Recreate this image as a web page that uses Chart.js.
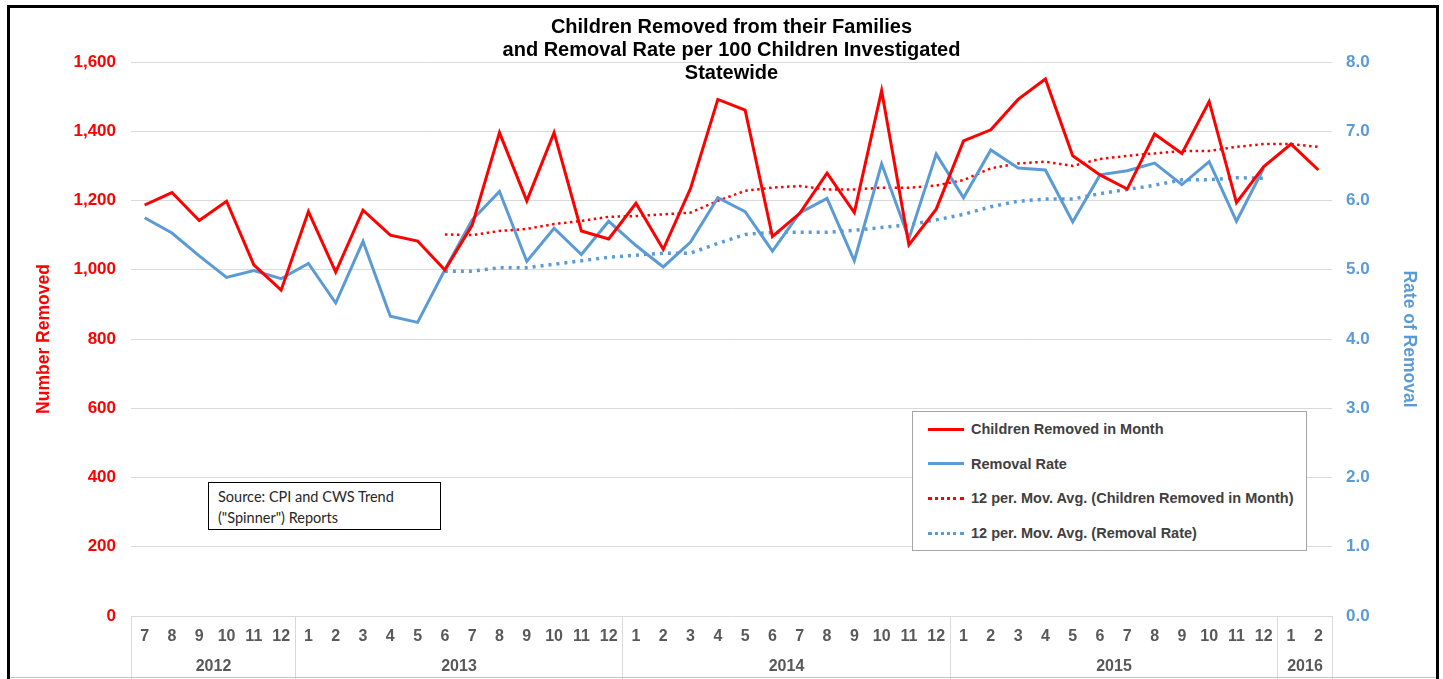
<!DOCTYPE html>
<html>
<head>
<meta charset="utf-8">
<script src="https://cdn.jsdelivr.net/npm/chart.js@4.4.1/dist/chart.umd.min.js"></script>
<style>
    body { margin: 0; background: #fff; overflow: hidden; }
    #wrap { position: relative; width: 1443px; height: 679px; }
    #frame { position: absolute; left: 7px; top: 5px; width: 1426px; height: 680px; border: 3px solid #000; pointer-events: none; }
    #bottomLine { position: absolute; left: 10px; top: 677px; width: 1426px; height: 1px; background: #c4c4c4; }
    #legendBox { position: absolute; left: 912px; top: 411px; width: 393px; height: 138px; border: 1.5px solid #a6a6a6; background: #fff; }
    .legendRow { position: absolute; left: 15px; height: 20px; display: flex; align-items: center;
        font: bold 14.5px "Liberation Sans", Arial, sans-serif; color: #404040; white-space: nowrap; }
    .legendRow span.sample { display: inline-block; width: 36px; margin-right: 7px; }
    #sourceBox { position: absolute; left: 208px; top: 482px; width: 222px; height: 43px; border: 1.5px solid #000;
        padding: 3px 0 0 9px; font: 14.5px Lato, "Open Sans", sans-serif; color: #262626; line-height: 21px; background: #fff; }
</style>
</head>
<body>
<div id="wrap">
    <canvas id="removalChart" width="1443" height="679"></canvas>
    <div id="legendBox"></div>
    <div id="sourceBox">Source: CPI and CWS Trend<br>("Spinner") Reports</div>
    <div id="bottomLine"></div>
    <div id="frame"></div>
</div>
<script>
// months Jul 2012 - Feb 2016
const monthLabels = ['7', '8', '9', '10', '11', '12',
    '1', '2', '3', '4', '5', '6', '7', '8', '9', '10', '11', '12',
    '1', '2', '3', '4', '5', '6', '7', '8', '9', '10', '11', '12',
    '1', '2', '3', '4', '5', '6', '7', '8', '9', '10', '11', '12',
    '1', '2'];
const yearLabels = ['2012', '2013', '2014', '2015', '2016'];
const yearSpans = [6, 12, 12, 12, 2];

const removed = [1187, 1223, 1142, 1198, 1014, 941, 1168, 993, 1172, 1100, 1083, 999,
    1129, 1396, 1199, 1396, 1112, 1089, 1192, 1059, 1235, 1492, 1461, 1096,
    1163, 1279, 1165, 1517, 1072, 1175, 1372, 1404, 1492, 1551, 1329, 1274,
    1233, 1392, 1336, 1486, 1194, 1298, 1363, 1288];

const removalRate = [5.75, 5.53, 5.20, 4.89, 4.99, 4.87, 5.09, 4.52, 5.41, 4.33, 4.24, 5.00,
    5.72, 6.13, 5.12, 5.60, 5.22, 5.70, 5.35, 5.04, 5.40, 6.04, 5.84, 5.27,
    5.82, 6.03, 5.13, 6.53, 5.45, 6.67, 6.04, 6.73, 6.47, 6.44, 5.69, 6.37,
    6.43, 6.54, 6.23, 6.56, 5.70, 6.47, null, null];

const removedAvg = [null, null, null, null, null, null, null, null, null, null, null, 1102,
    1100, 1112, 1118, 1132, 1141, 1153, 1155, 1160, 1165, 1199, 1228, 1237,
    1242, 1232, 1232, 1237, 1237, 1243, 1259, 1293, 1307, 1312, 1300, 1320,
    1329, 1336, 1343, 1343, 1355, 1363, 1363, 1355];

const rateAvg = [null, null, null, null, null, null, null, null, null, null, null, 4.98,
    4.98, 5.03, 5.03, 5.08, 5.13, 5.18, 5.21, 5.24, 5.24, 5.38, 5.51, 5.54,
    5.54, 5.54, 5.57, 5.61, 5.65, 5.72, 5.80, 5.91, 5.99, 6.02, 6.02, 6.10,
    6.16, 6.22, 6.30, 6.30, 6.33, 6.32, null, null];

const RED = '#ff0000';
const BLUE = '#5b9bd5';
const GRID = '#d9d9d9';
const FONT = '"Liberation Sans", Arial, sans-serif';

// year row under the month labels, with the separators
const yearRows = {
    id: 'yearRows',
    afterDraw(chart) {
        const x = chart.scales.x;
        const ctx = chart.ctx;
        const step = x.getPixelForValue(1) - x.getPixelForValue(0);
        const top = chart.chartArea.bottom;
        ctx.save();
        ctx.strokeStyle = GRID;
        ctx.lineWidth = 1;
        ctx.font = 'bold 16px ' + FONT;
        ctx.fillStyle = '#595959';
        ctx.textAlign = 'center';
        ctx.textBaseline = 'middle';
        let start = 0;
        yearLabels.forEach((yr, k) => {
            const x0 = Math.round(x.getPixelForValue(start) - step / 2) + 0.5;
            const x1 = Math.round(x.getPixelForValue(start + yearSpans[k] - 1) + step / 2) + 0.5;
            ctx.beginPath();
            ctx.moveTo(x0, top); ctx.lineTo(x0, chart.height);
            ctx.moveTo(x1, top); ctx.lineTo(x1, chart.height);
            ctx.stroke();
            ctx.fillText(yr, (x0 + x1) / 2, top + 51);
            start += yearSpans[k];
        });
        ctx.restore();
    }
};

const chart = new Chart(document.getElementById('removalChart'), {
    type: 'line',
    data: {
        labels: monthLabels,
        datasets: [{
            label: 'Children Removed in Month',
            data: removed,
            yAxisID: 'y',
            borderColor: RED,
            backgroundColor: RED,
            borderWidth: 3,
            pointRadius: 0,
            order: 1
        }, {
            label: 'Removal Rate',
            data: removalRate,
            yAxisID: 'y1',
            borderColor: BLUE,
            backgroundColor: BLUE,
            borderWidth: 3,
            pointRadius: 0,
            order: 2
        }, {
            label: '12 per. Mov. Avg. (Children Removed in Month)',
            data: removedAvg,
            yAxisID: 'y',
            borderColor: RED,
            backgroundColor: RED,
            borderWidth: 2.5,
            borderDash: [2.5, 3.5],
            pointRadius: 0,
            order: 3
        }, {
            label: '12 per. Mov. Avg. (Removal Rate)',
            data: rateAvg,
            yAxisID: 'y1',
            borderColor: BLUE,
            backgroundColor: BLUE,
            borderWidth: 3.5,
            borderDash: [3, 5],
            pointRadius: 0,
            order: 4
        }]
    },
    options: {
        responsive: false,
        animation: false,
        events: [],
        layout: { padding: { top: 5, left: 0, right: 0, bottom: 0 } },
        plugins: {
            legend: { display: false },
            tooltip: { enabled: false },
            title: {
                display: true,
                fullSize: false,
                text: ['Children Removed from their Families',
                       'and Removal Rate per 100 Children Investigated',
                       'Statewide'],
                color: '#000',
                font: { family: FONT, size: 20, weight: 'bold', lineHeight: 1.15 },
                padding: { top: 10.5, bottom: -22.5 }
            }
        },
        scales: {
            x: {
                offset: true,
                grid: { display: false, drawTicks: false },
                border: { display: false },
                ticks: {
                    color: '#595959',
                    font: { family: FONT, size: 16, weight: 'bold' },
                    padding: 11,
                    maxRotation: 0,
                    autoSkip: false
                },
                afterFit: (s) => { s.height = 63; }
            },
            y: {
                position: 'left',
                min: 0,
                max: 1600,
                ticks: {
                    stepSize: 200,
                    color: RED,
                    padding: 15,
                    font: { family: FONT, size: 17, weight: 'bold' },
                    callback: (v) => v.toLocaleString('en-US')
                },
                grid: { color: GRID, drawTicks: false },
                border: { display: false },
                title: {
                    display: true,
                    text: 'Number Removed',
                    color: RED,
                    font: { family: FONT, size: 17.5, weight: 'bold' },
                    padding: { top: 34 }
                },
                afterFit: (s) => { s.width = 131; }
            },
            y1: {
                position: 'right',
                min: 0,
                max: 8,
                ticks: {
                    stepSize: 1,
                    color: BLUE,
                    padding: 14,
                    font: { family: FONT, size: 17, weight: 'bold' },
                    callback: (v) => v.toFixed(1)
                },
                grid: { drawOnChartArea: false, drawTicks: false },
                border: { display: false },
                title: {
                    display: true,
                    text: 'Rate of Removal',
                    color: BLUE,
                    font: { family: FONT, size: 17.5, weight: 'bold' },
                    padding: { top: 24 }
                },
                afterFit: (s) => { s.width = 111; }
            }
        }
    },
    plugins: [yearRows]
});

// legend box inside the plot, built from the datasets
const legendBox = document.getElementById('legendBox');
chart.data.datasets.forEach((ds, i) => {
    const row = document.createElement('div');
    row.className = 'legendRow';
    row.style.top = (7 + i * 34.7) + 'px';
    const sample = document.createElement('span');
    sample.className = 'sample';
    if (ds.borderDash) {
        sample.style.borderTop = (i === 3 ? '3.5px' : '3px') + ' dotted ' + ds.borderColor;
    } else {
        sample.style.borderTop = '3px solid ' + ds.borderColor;
    }
    row.appendChild(sample);
    row.appendChild(document.createTextNode(ds.label));
    legendBox.appendChild(row);
});
</script>
</body>
</html>
